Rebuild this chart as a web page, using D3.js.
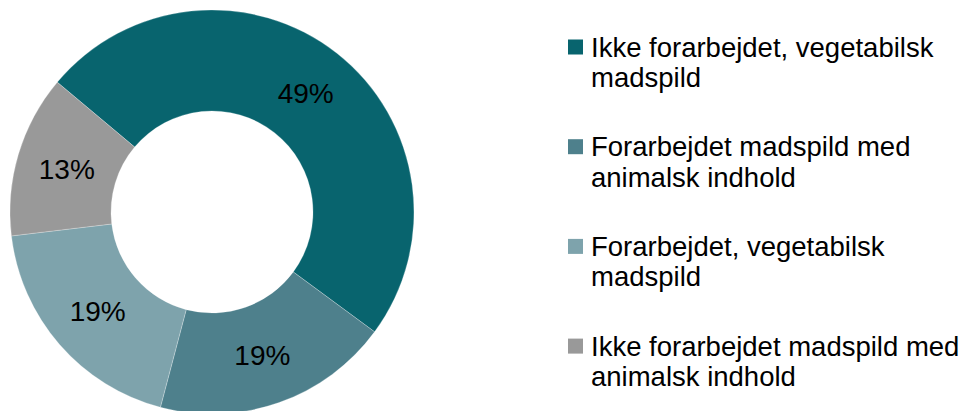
<!DOCTYPE html>
<html>
<head>
<meta charset="utf-8">
<script src="https://cdn.jsdelivr.net/npm/d3@7"></script>
<style>
  html, body { margin: 0; padding: 0; background: #fff; }
  svg { display: block; font-family: "Liberation Sans", Arial, sans-serif; }
</style>
</head>
<body>
<svg id="chart"></svg>
<script>
// data
const categories = [
  "Ikke forarbejdet, vegetabilsk\nmadspild",
  "Forarbejdet madspild med\nanimalsk indhold",
  "Forarbejdet, vegetabilsk\nmadspild",
  "Ikke forarbejdet madspild med\nanimalsk indhold"
];
const shares = [49, 19, 19, 13];
const colors = ["#08646e", "#4e808c", "#7ea3ac", "#999999"];

const width = 968, height = 411;
const cx = 212, cy = 212, outerR = 202, innerR = 101;

const svg = d3.select("#chart")
  .attr("width", width)
  .attr("height", height);

// donut
const start = -50 * Math.PI / 180;
const pie = d3.pie()
  .sort(null)
  .value(d => d)
  .startAngle(start)
  .endAngle(start + 2 * Math.PI);

const arc = d3.arc().innerRadius(innerR).outerRadius(outerR);

const g = svg.append("g").attr("transform", `translate(${cx},${cy})`);
const arcs = pie(shares);

g.selectAll("path.slice")
  .data(arcs)
  .enter()
  .append("path")
    .attr("class", "slice")
    .attr("fill", (d, i) => colors[i])
    .attr("stroke", "#ffffff")
    .attr("stroke-opacity", 0.5)
    .attr("stroke-width", 0.5)
    .attr("d", arc);

g.selectAll("text.pct")
  .data(arcs)
  .enter()
  .append("text")
    .attr("class", "pct")
    .attr("transform", d => `translate(${arc.centroid(d)})`)
    .attr("text-anchor", "middle")
    .attr("dy", "0.36em")
    .attr("font-size", 28)
    .attr("fill", "#000")
    .text(d => d.data + "%");

// legend
const legendX = 568, legendY = 56.5, step = 99.7, lineH = 30.5;
const legend = svg.append("g").attr("transform", `translate(${legendX},${legendY})`);

const item = legend.selectAll("g.item")
  .data(categories)
  .enter()
  .append("g")
    .attr("class", "item")
    .attr("transform", (d, i) => `translate(0,${i * step})`);

item.append("rect")
  .attr("x", 0)
  .attr("y", -17)
  .attr("width", 15)
  .attr("height", 15)
  .attr("fill", (d, i) => colors[i]);

item.append("text")
  .attr("x", 23)
  .attr("font-size", 27.5)
  .attr("fill", "#000")
  .selectAll("tspan")
  .data(d => d.split("\n"))
  .enter()
  .append("tspan")
    .attr("x", 23)
    .attr("y", (d, j) => j * lineH)
    .text(d => d);
</script>
</body>
</html>
